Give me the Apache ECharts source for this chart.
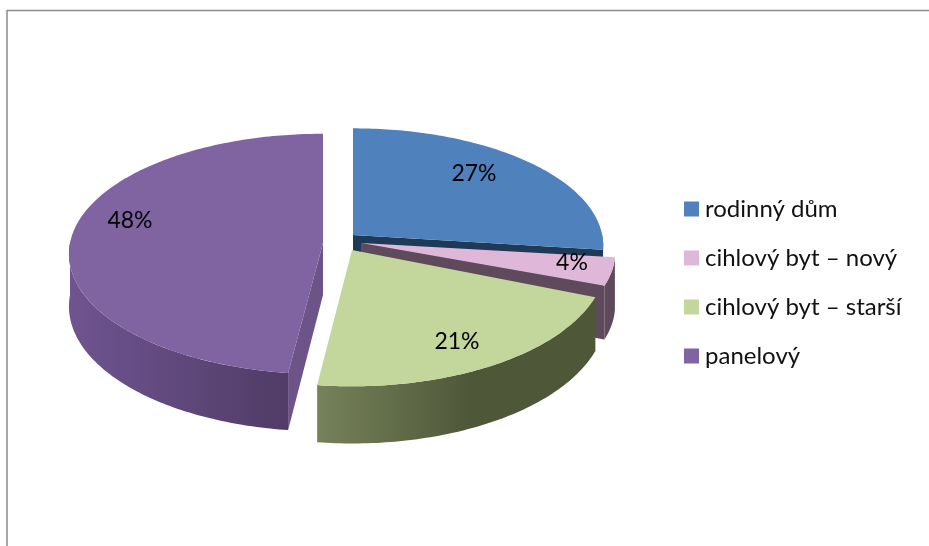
<!DOCTYPE html>
<html>
<head>
<meta charset="utf-8">
<title>Pie</title>
<style>
html, body { margin: 0; padding: 0; background: #fff; }
#chart { width: 929px; height: 546px; }
</style>
<script src="https://cdn.jsdelivr.net/npm/echarts@6/dist/echarts.min.js"></script>
</head>
<body>
<div id="chart"></div>
<script>
var categories = ['rodinný dům', 'cihlový byt – nový', 'cihlový byt – starší', 'panelový'];
var shares = [27, 4, 21, 48];

// look of each slice: apex on screen, size tweaks, colours, label offset from the apex
var looks = [
    { cx: 353, cy: 235, size: 0.985, tilt: 1, top: '#4f81bd', rim: ['#1f3a57', '#1f3a57'], cut: '#1f3a57', label: [121, -61] },
    { cx: 361, cy: 243, size: 1, tilt: 0.95, top: '#dfb8d9', rim: ['#5f4a5b', '#5f4a5b'], cut: '#5f4a5b', label: [211, 20] },
    { cx: 352, cy: 250, size: 1, tilt: 1.05, top: '#c3d69b', rim: ['#4f5739', '#76825a'], cut: '#76825a', label: [105, 92] },
    { cx: 323, cy: 243, size: 1, tilt: 1.01, top: '#8064a2', rim: ['#503c66', '#6f5491'], cut: '#6c5388', label: [-193, -22] }
];
var drawOrder = [0, 1, 3, 2];

var R = 253, TILT = 118 / 253, CAM = 11 * 253, DEPTH = 52;

var total = shares.reduce(function (a, b) { return a + b; }, 0);
var starts = [];
shares.reduce(function (acc, v, i) { starts[i] = acc; return acc + v; }, 0);

// angle clockwise from 12 o'clock, z is height above the top face (negative = down)
function project(look, r, angle, z) {
    var x = r * look.size * Math.sin(angle);
    var y = -r * look.size * Math.cos(angle);
    var f = CAM / (CAM - y);
    return [look.cx + x * f, look.cy + y * TILT * look.tilt * f - z * f];
}

function arc(look, a0, a1, z) {
    var n = Math.max(2, Math.ceil(Math.abs(a1 - a0) * 60));
    var pts = [];
    for (var i = 0; i <= n; i++) {
        pts.push(project(look, R, a0 + (a1 - a0) * i / n, z));
    }
    return pts;
}

function cutFace(look, a) {
    return [project(look, 0, a, 0), project(look, R, a, 0), project(look, R, a, -DEPTH), project(look, 0, a, -DEPTH)];
}

function renderSlice(idx) {
    return function () {
        var look = looks[idx];
        var a0 = starts[idx] / total * Math.PI * 2;
        var a1 = (starts[idx] + shares[idx]) / total * Math.PI * 2;
        var kids = [];

        // cut faces, only those turned to the viewer
        if (a1 > Math.PI / 2 && a1 < Math.PI) {
            kids.push({ type: 'polygon', shape: { points: cutFace(look, a1) }, style: { fill: look.cut } });
        }
        if (a0 > Math.PI) {
            kids.push({ type: 'polygon', shape: { points: cutFace(look, a0) }, style: { fill: look.cut } });
        }

        // outer wall on the front half
        var w0 = Math.max(a0, Math.PI / 2), w1 = Math.min(a1, Math.PI * 1.5);
        if (w1 > w0) {
            var upper = arc(look, w0, w1, 0);
            var lower = arc(look, w1, w0, -DEPTH);
            kids.push({
                type: 'polygon',
                shape: { points: upper.concat(lower) },
                style: {
                    fill: new echarts.graphic.LinearGradient(0, 0, 1, 0, [
                        { offset: 0, color: look.rim[1] },
                        { offset: idx === 2 ? 0.55 : 1, color: look.rim[0] },
                        { offset: 1, color: look.rim[0] }
                    ])
                }
            });
        }

        // top face
        kids.push({
            type: 'polygon',
            shape: { points: [project(look, 0, a0, 0)].concat(arc(look, a0, a1, 0)) },
            style: { fill: look.top }
        });

        kids.push({
            type: 'text',
            style: {
                x: look.cx + look.label[0],
                y: look.cy + look.label[1],
                text: shares[idx] + '%',
                fill: '#000',
                font: '23px Lato',
                align: 'center',
                verticalAlign: 'middle'
            }
        });

        return { type: 'group', children: kids };
    };
}

var series = drawOrder.map(function (idx) {
    return {
        name: categories[idx],
        type: 'custom',
        coordinateSystem: 'none',
        itemStyle: { color: looks[idx].top },
        renderItem: renderSlice(idx),
        data: [shares[idx]],
        silent: true
    };
});

var option = {
    backgroundColor: '#fff',
    animation: false,
    legend: {
        data: categories,
        orient: 'vertical',
        left: 684,
        top: 195,
        padding: 0,
        icon: 'rect',
        itemWidth: 15,
        itemHeight: 15,
        itemGap: 21,
        selectedMode: false,
        textStyle: {
            fontFamily: 'Lato',
            fontSize: 24,
            color: '#111',
            padding: [0, 0, 0, 1],
            lineHeight: 28
        }
    },
    graphic: [{
        type: 'polyline',
        silent: true,
        shape: { points: [[7, 546], [7, 10.5], [929, 10.5]] },
        style: { stroke: '#8c8c8c', lineWidth: 1.5, fill: null }
    }],
    series: series
};

var myChart = echarts.init(document.getElementById('chart'));
myChart.setOption(option);
</script>
</body>
</html>
